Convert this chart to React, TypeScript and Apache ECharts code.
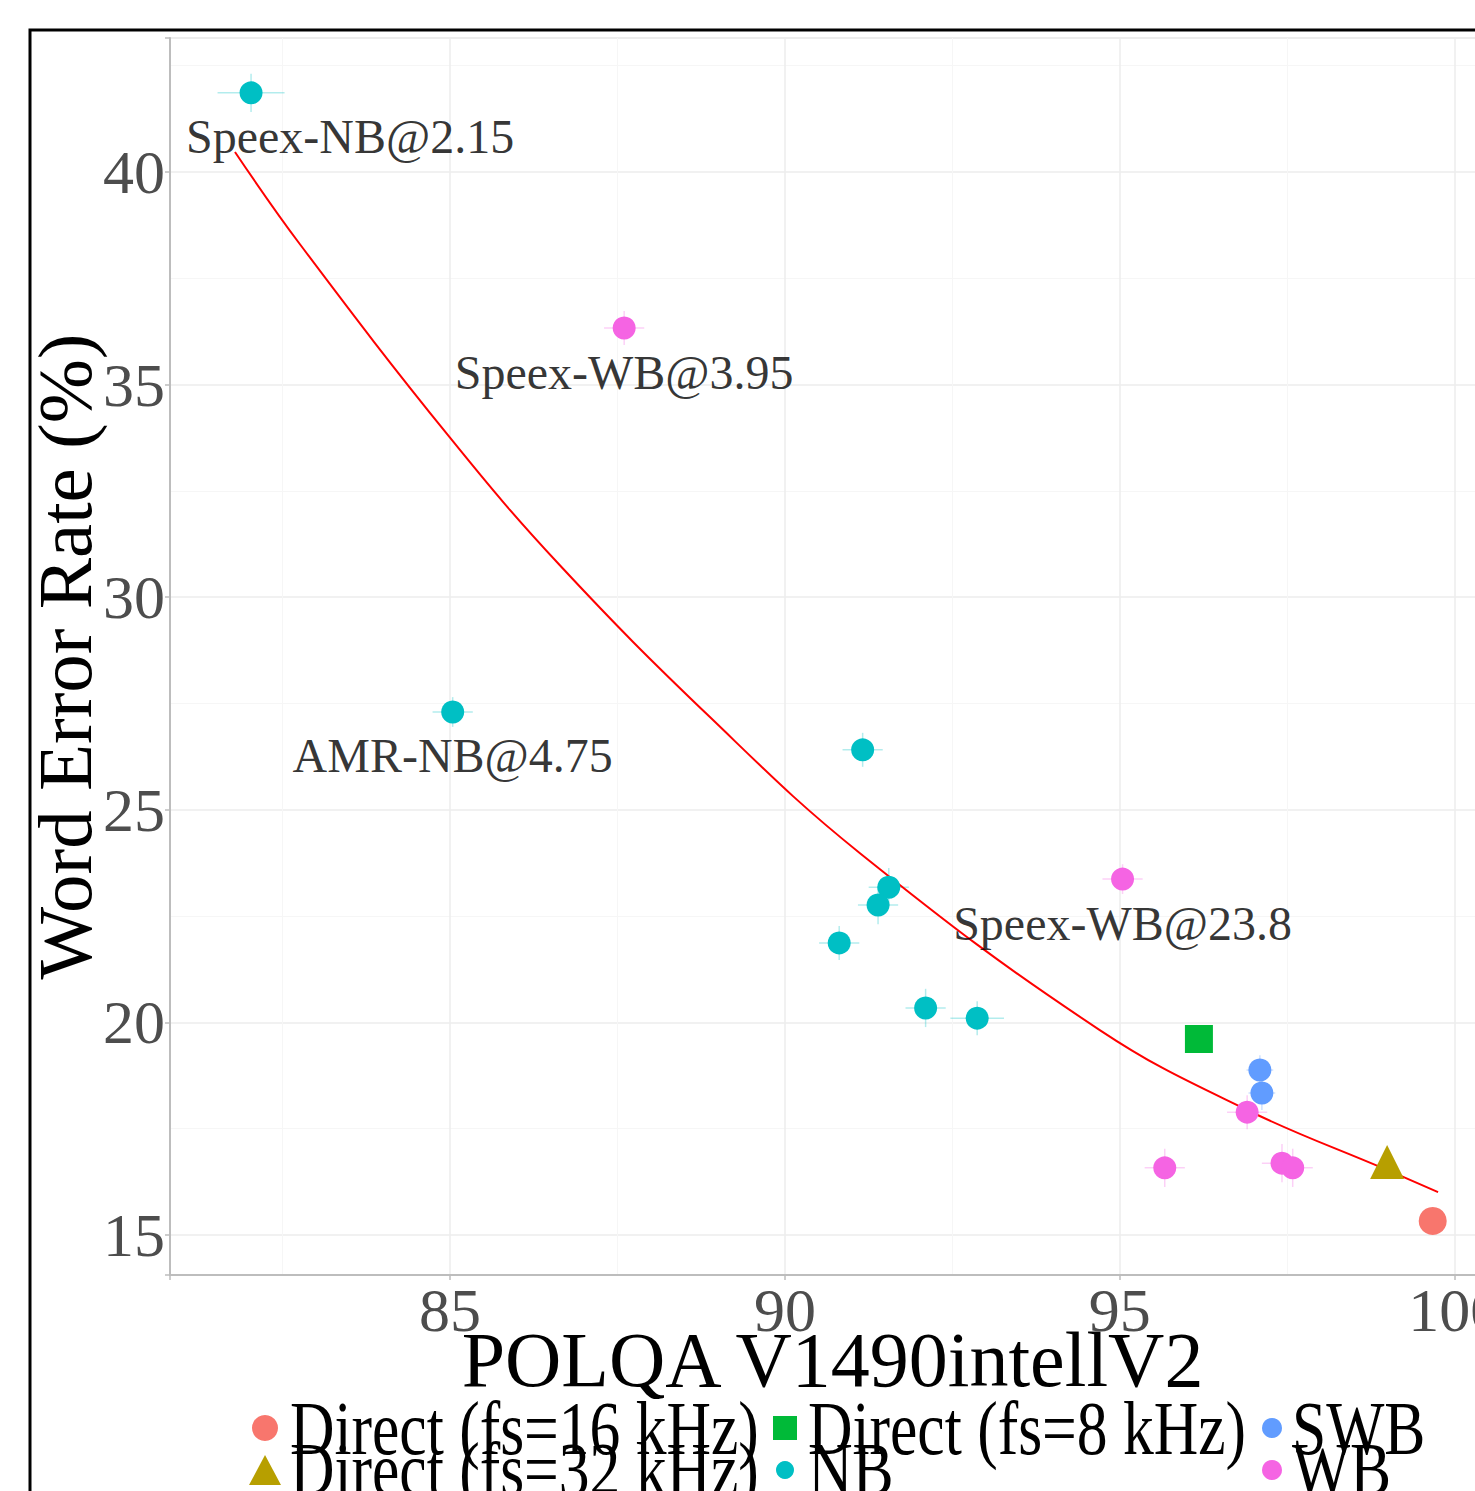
import React, { useEffect, useRef } from 'react';
import * as echarts from 'echarts';

// ---- data ----
const groupNames = ['Direct (fs=16 kHz)', 'Direct (fs=32 kHz)', 'Direct (fs=8 kHz)', 'NB', 'SWB', 'WB'];
const groupColors = ['#F8766D', '#B79F00', '#00BA38', '#00BFC4', '#619CFF', '#F564E3'];

const direct16Polqa = [99.67];
const direct16Wer = [15.33];
const direct32Polqa = [98.99];
const direct32Wer = [16.72];
const direct8Polqa = [96.18];
const direct8Wer = [19.61];
const nbPolqa = [82.03, 85.04, 91.16, 91.55, 91.39, 90.81, 92.1, 92.87];
const nbWer = [41.86, 27.3, 26.41, 23.18, 22.76, 21.87, 20.34, 20.1];
const swbPolqa = [97.09, 97.12];
const swbWer = [18.88, 18.34];
const wbPolqa = [87.6, 95.04, 96.9, 95.67, 97.42, 97.58];
const wbWer = [36.33, 23.37, 17.89, 16.58, 16.69, 16.58];

// small error bars (x: POLQA, y: WER)
const nbErrX = [0.5, 0.3, 0.3, 0.3, 0.3, 0.3, 0.3, 0.4];
const nbErrY = [0.45, 0.35, 0.4, 0.45, 0.45, 0.4, 0.45, 0.4];
const swbErrX = [0.2, 0.2];
const swbErrY = [0.35, 0.4];
const wbErrX = [0.3, 0.3, 0.3, 0.3, 0.3, 0.3];
const wbErrY = [0.4, 0.35, 0.4, 0.45, 0.45, 0.45];

const annotLabels = ['Speex-NB@2.15', 'Speex-WB@3.95', 'AMR-NB@4.75', 'Speex-WB@23.8'];
const annotPolqa = [82.03, 87.6, 85.04, 95.04];
const annotWer = [41.86, 36.33, 27.3, 23.37];

const fitPolqa = [81.79, 82.76, 85.0, 86.64, 88.88, 91.12, 94.7, 96.9, 98.99, 99.75];
const fitWer = [40.47, 38.3, 33.75, 30.75, 27.18, 23.98, 19.82, 17.94, 16.53, 16.01];

const xTitle = 'POLQA V1490intellV2';
const yTitle = 'Word Error Rate (%)';

const SERIF = '"Liberation Serif", "DejaVu Serif", serif';

const zip = (xs: number[], ys: number[]) => xs.map((x, i) => [x, ys[i]]);
const zip4 = (xs: number[], ys: number[], ex: number[], ey: number[]) =>
  xs.map((x, i) => [x, ys[i], ex[i], ey[i]]);

function errSeries(name: string, color: string, data: number[][]) {
  return {
    type: 'custom',
    name,
    z: 1,
    silent: true,
    dimensions: ['x', 'y', 'ex', 'ey'],
    encode: { x: 0, y: 1 },
    data,
    renderItem: (_p: any, api: any) => {
      const x = api.value(0);
      const y = api.value(1);
      const ex = api.value(2);
      const ey = api.value(3);
      const a = api.coord([x - ex, y]);
      const b = api.coord([x + ex, y]);
      const c = api.coord([x, y - ey]);
      const d = api.coord([x, y + ey]);
      const style = { stroke: color, lineWidth: 1.5, opacity: 0.3 };
      return {
        type: 'group',
        children: [
          { type: 'line', shape: { x1: a[0], y1: a[1], x2: b[0], y2: b[1] }, style },
          { type: 'line', shape: { x1: c[0], y1: c[1], x2: d[0], y2: d[1] }, style },
        ],
      };
    },
  };
}

function scatter(name: string, color: string, symbol: string, size: number, data: number[][]) {
  return {
    type: 'scatter',
    name,
    symbol,
    symbolSize: size,
    z: 3,
    itemStyle: { color, opacity: 1 },
    data,
  };
}

// legend keys: icons from the legend component, names as (horizontally condensed) texts
function legendKey(name: string, icon: string, cx: number, cy: number, w: number, h: number) {
  return {
    show: true,
    data: [{ name, icon }],
    left: cx - w / 2,
    top: cy - h / 2,
    orient: 'horizontal',
    itemWidth: w,
    itemHeight: h,
    itemGap: 0,
    padding: 0,
    selectedMode: false,
    formatter: () => '',
    textStyle: { fontSize: 8, lineHeight: 8 },
  };
}

function legendLabel(text: string, x: number, y: number) {
  return {
    type: 'text',
    x,
    y,
    scaleX: 0.81,
    silent: true,
    z: 50,
    style: {
      text,
      fontFamily: SERIF,
      fontSize: 76,
      fill: '#000000',
      align: 'left',
      verticalAlign: 'middle',
    },
  };
}

const tickFormatter = (v: number) => (Math.abs(v / 5 - Math.round(v / 5)) < 1e-6 ? String(v) : '');

export default function App() {
  const ref = useRef<HTMLDivElement>(null);
  useEffect(() => {
    if (!ref.current) return;
    const chart = echarts.init(ref.current, undefined, { renderer: 'svg' });
    const option: any = {
      animation: false,
      backgroundColor: '#ffffff',
      grid: {
        left: 170,
        top: 38,
        width: 1325,
        height: 1237,
        show: true,
        borderColor: '#E6E6E6',
        borderWidth: 1.5,
        backgroundColor: 'transparent',
        containLabel: false,
        outerBoundsMode: 'none',
      },
      xAxis: {
        type: 'value',
        min: 80.82,
        max: 100.6,
        splitNumber: 4,
        minInterval: 5,
        maxInterval: 5,
        name: xTitle,
        nameLocation: 'middle',
        nameGap: 45,
        nameMoveOverlap: false,
        nameTextStyle: { fontFamily: SERIF, fontSize: 78, color: '#000000' },
        axisLine: { show: true, onZero: false, lineStyle: { color: '#BDBDBD', width: 2 } },
        axisTick: { show: true, length: 5, lineStyle: { color: '#BDBDBD', width: 1.5 } },
        axisLabel: {
          fontFamily: SERIF,
          fontSize: 62,
          color: '#4D4D4D',
          margin: 4,
          hideOverlap: false,
          formatter: tickFormatter,
        },
        splitLine: { show: true, lineStyle: { color: '#EDEDED', width: 1.5 } },
        minorTick: { show: false, splitNumber: 2 },
        minorSplitLine: { show: true, lineStyle: { color: '#F6F6F6', width: 1 } },
      },
      yAxis: {
        type: 'value',
        min: 14.06,
        max: 43.15,
        splitNumber: 6,
        minInterval: 5,
        maxInterval: 5,
        name: yTitle,
        nameLocation: 'middle',
        nameGap: 67,
        nameMoveOverlap: false,
        nameTextStyle: { fontFamily: SERIF, fontSize: 77, color: '#000000' },
        axisLine: { show: true, onZero: false, lineStyle: { color: '#BDBDBD', width: 2 } },
        axisTick: { show: true, length: 5, lineStyle: { color: '#BDBDBD', width: 1.5 } },
        axisLabel: {
          fontFamily: SERIF,
          fontSize: 62,
          color: '#4D4D4D',
          margin: 5,
          formatter: tickFormatter,
        },
        splitLine: { show: true, lineStyle: { color: '#EDEDED', width: 1.5 } },
        minorTick: { show: false, splitNumber: 2 },
        minorSplitLine: { show: true, lineStyle: { color: '#F6F6F6', width: 1 } },
      },
      legend: [
        legendKey(groupNames[0], 'circle', 265, 1428, 26, 26),
        legendKey(groupNames[1], 'triangle', 265, 1470, 32, 30),
        legendKey(groupNames[2], 'rect', 785, 1428, 24, 24),
        legendKey(groupNames[3], 'circle', 785, 1470, 18, 18),
        legendKey(groupNames[4], 'circle', 1272, 1428, 20, 20),
        legendKey(groupNames[5], 'circle', 1272, 1470, 20, 20),
      ],
      graphic: [
        legendLabel(groupNames[0], 290, 1428),
        legendLabel(groupNames[1], 290, 1469),
        legendLabel(groupNames[2], 808, 1428),
        legendLabel(groupNames[3], 808, 1469),
        legendLabel(groupNames[4], 1292, 1428),
        legendLabel(groupNames[5], 1292, 1469),
        {
          type: 'rect',
          z: 100,
          silent: true,
          shape: { x: 30, y: 30, width: 1500, height: 1500 },
          style: { fill: 'none', stroke: '#000000', lineWidth: 3 },
        },
      ],
      series: [
        errSeries('err-NB', groupColors[3], zip4(nbPolqa, nbWer, nbErrX, nbErrY)),
        errSeries('err-SWB', groupColors[4], zip4(swbPolqa, swbWer, swbErrX, swbErrY)),
        errSeries('err-WB', groupColors[5], zip4(wbPolqa, wbWer, wbErrX, wbErrY)),
        {
          type: 'line',
          name: 'fit',
          data: zip(fitPolqa, fitWer),
          smooth: 0.4,
          showSymbol: false,
          symbol: 'none',
          z: 2,
          lineStyle: { color: '#FF0000', width: 2 },
          silent: true,
        },
        scatter(groupNames[0], groupColors[0], 'circle', 28, zip(direct16Polqa, direct16Wer)),
        scatter(groupNames[1], groupColors[1], 'triangle', 34, zip(direct32Polqa, direct32Wer)),
        scatter(groupNames[2], groupColors[2], 'rect', 28, zip(direct8Polqa, direct8Wer)),
        scatter(groupNames[3], groupColors[3], 'circle', 23, zip(nbPolqa, nbWer)),
        scatter(groupNames[4], groupColors[4], 'circle', 23, zip(swbPolqa, swbWer)),
        scatter(groupNames[5], groupColors[5], 'circle', 23, zip(wbPolqa, wbWer)),
        {
          type: 'scatter',
          name: 'annotations',
          symbolSize: 0,
          z: 4,
          silent: true,
          data: annotLabels.map((t, i) => ({ value: [annotPolqa[i], annotWer[i]], name: t })),
          label: {
            show: true,
            position: 'inside',
            formatter: (p: any) => p.name,
            fontFamily: SERIF,
            fontSize: 48,
            color: '#000000',
          },
          labelLayout: (params: any) => {
            const idx = params.dataIndex;
            const dx = idx === 0 ? 99 : 0;
            return { dx, dy: 44 };
          },
        },
      ],
    };
    chart.setOption(option);
    return () => chart.dispose();
  }, []);
  return (
    <div
      ref={ref}
      style={{ position: 'absolute', left: 0, top: 0, width: 1475, height: 1491, background: '#fff' }}
    />
  );
}
